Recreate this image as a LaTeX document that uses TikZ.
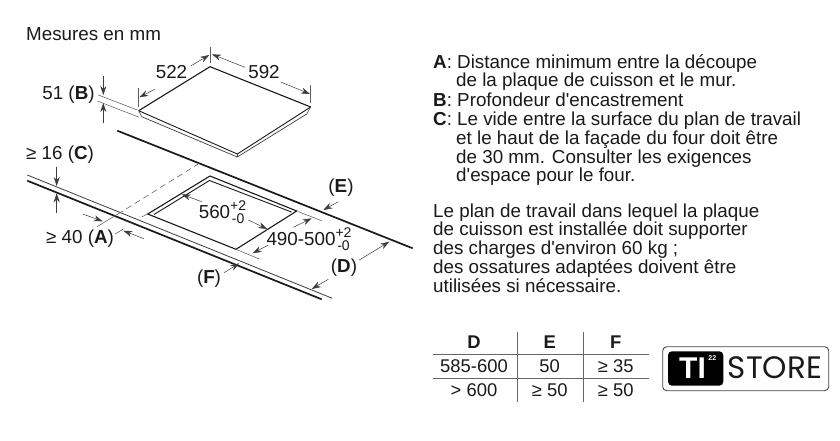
\documentclass[tikz,border=0pt]{standalone}
\usepackage{fontspec}
\setmainfont{Liberation Sans}
\newfontfamily\logofont{Poppins}
\usetikzlibrary{arrows.meta}
\definecolor{ink}{HTML}{1A1A1A}
\definecolor{rule}{HTML}{666666}
\tikzset{
  x=1pt,y=-1pt,
  thin line/.style={line width=0.5pt,draw=ink!85},
  ext/.style={line width=0.55pt,draw=ink!70},
  edge/.style={line width=1.1pt,draw=ink},
  heavy/.style={line width=1.7pt,draw=ink},
  dim/.style={line width=0.5pt,draw=ink!85,-{Stealth[length=9pt,width=6pt]}},
  txt/.style={anchor=base west,inner sep=0pt,font=\fontsize{18.8}{20}\selectfont,text=ink},
  lab/.style={inner sep=0pt,font=\fontsize{18.8}{20}\selectfont,text=ink},
  cell/.style={inner sep=0pt,font=\fontsize{18.4}{20}\selectfont,text=ink},
  tablerule/.style={line width=1pt,draw=rule},
}
\newcommand{\tol}[2]{\makebox[16pt][c]{\fontsize{14}{14}\selectfont\rlap{\raisebox{7.5pt}{\makebox[16pt][c]{#1}}}\raisebox{-5pt}{\makebox[16pt][c]{#2}}}}
\begin{document}
\begin{tikzpicture}
\useasboundingbox (0,0) rectangle (840,440);
\fill[white] (0,0) rectangle (840,440);
% title
\node[txt] (title) at (26,40) {Mesures en mm};
% hob
\draw[edge,line join=round] (138.7,110.7) -- (210,66.7) -- (310.7,107);
\draw[edge,line width=0.9pt] (310.7,107) -- (237.3,154) -- (138.7,110.7);
\draw[thin line,line width=0.7pt] (141.7,116.7) -- (237.3,157) -- (306.7,114);
\draw[thin line] (138.7,110.7) -- (141.7,116.7);
\draw[thin line] (237.3,154) -- (237.3,157);
\draw[thin line] (310.7,107) -- (306.7,114);
% hob dims
\draw[ext] (138.7,88) -- (138.7,107);
\draw[ext] (210,46.7) -- (210,63);
\draw[ext] (310.7,85) -- (310.7,103);
\draw[dim] (154.7,89.3) -- (139.3,97.3);
\draw[dim] (190.7,66) -- (209.3,55);
\draw[dim] (245,67.3) -- (212,54.3);
\draw[dim] (280.7,82) -- (310,94);
\node[lab] (d522) at (171.5,72) {522};
\node[lab] (d592) at (264,72) {592};
% depth
\draw[ext] (98.3,95) -- (137.3,110);
\draw[ext] (97.3,101) -- (139.3,117.3);
\draw[dim] (103.3,76) -- (103.3,95);
\draw[dim] (103.3,122.7) -- (103.3,103);
\node[lab] (b) at (68.5,95) {51 (\textbf{B})};
% worktop
\draw[heavy] (117.3,130.7) -- (412.7,248.3);
\draw[thin line,line width=0.8pt] (27.3,175) -- (332.3,298.3);
\draw[heavy] (27.3,180.7) -- (321.7,299.3);
% cutout
\draw[edge,line join=miter] (147.7,214) -- (210,176) -- (296.7,211) -- (236,249.3) -- cycle;
\draw[edge,line width=0.9pt] (154,214.5) -- (209.5,180.5) -- (291.5,212);
% dashed guide and A
\draw[ext,dashed,dash pattern=on 6pt off 4pt] (199.3,163.3) -- (118,214);
\draw[ext] (118,214) -- (97,226.7);
\draw[ext,dashed,dash pattern=on 6pt off 4pt] (147,214) -- (138,219.3);
\draw[ext] (123,229.3) -- (115,234);
\draw[dim] (82.7,214) -- (102.7,221.3);
\draw[dim] (144,238.7) -- (123.3,230.7);
\node[lab] (a) at (80,239) {≥ 40 (\textbf{A})};
% C
\draw[dim] (56.7,166.7) -- (56.7,186);
\draw[dim] (56.7,213.3) -- (56.7,193.3);
\node[lab] (c) at (60,155) {≥ 16 (\textbf{C})};
% 560
\draw[dim] (201.7,201.7) -- (181.7,194.3);
\draw[dim] (248.3,220) -- (267.3,229);
\node[lab,anchor=base] (w) at (222.5,218) {560\tol{+2}{-0}};
% 490-500
\draw[ext] (298.3,211.7) -- (321.7,220.7);
\draw[ext] (236,249.3) -- (259.3,259);
\draw[dim] (293.3,227.3) -- (311.7,218.3);
\draw[dim] (268.3,245) -- (252.7,253.3);
\node[lab,anchor=base] (h) at (309,245) {490-500\tol{+2}{-0}};
% E, D, F
\draw[dim] (338.3,201.7) -- (323.3,210);
\node[lab] (e) at (341,188) {(\textbf{E})};
\draw[dim] (359.3,260) -- (389.3,241.7);
\draw[dim] (328.3,279.3) -- (311.7,289);
\node[lab] (dd) at (344,268) {(\textbf{D})};
\draw[dim] (224,272.7) -- (239.3,263.3);
\node[lab] (f) at (209,279) {(\textbf{F})};
% right text
\node[txt] at (433,68) {\textbf{A}: Distance minimum entre la découpe};
\node[txt] at (456,86.5) {de la plaque de cuisson et le mur.};
\node[txt] at (433,106) {\textbf{B}: Profondeur d\textquotesingle encastrement};
\node[txt] at (433,125.5) {\textbf{C}: Le vide entre la surface du plan de travail};
\node[txt] at (456,144) {et le haut de la façade du four doit être};
\node[txt] at (456,163) {de 30 mm. Consulter les exigences};
\node[txt] at (456,181) {d\textquotesingle espace pour le four.};
\node[txt] at (433,217) {Le plan de travail dans lequel la plaque};
\node[txt] at (433,235) {de cuisson est installée doit supporter};
\node[txt] at (433,254) {des charges d\textquotesingle environ 60 kg ;};
\node[txt] at (433,273) {des ossatures adaptées doivent être};
\node[txt] at (433,292) {utilisées si nécessaire.};
% table
\draw[tablerule] (517,332) -- (517,401.5);
\draw[tablerule] (583,332) -- (583,401.5);
\draw[tablerule] (433.3,354.3) -- (648.7,354.3);
\draw[tablerule] (433.3,378) -- (648.7,378);
\node[cell] at (474,342) {\textbf{D}};
\node[cell] at (549.7,342) {\textbf{E}};
\node[cell] at (615.7,342) {\textbf{F}};
\node[cell] at (474,366.5) {585-600};
\node[cell] at (549.7,366.5) {50};
\node[cell] at (615.7,366.5) {≥ 35};
\node[cell] at (474,390) {> 600};
\node[cell] at (549.7,390) {≥ 50};
\node[cell] at (615.7,390) {≥ 50};
% logo
\draw[line width=0.9pt,draw=rule!70!black,rounded corners=4pt] (662.7,346.7) rectangle (828.7,390.7);
\fill[black,rounded corners=4pt] (668,351.3) rectangle (723.3,385.7);
\node[inner sep=0pt,text=white,font=\fontsize{30}{30}\selectfont\bfseries] (ti) at (692.5,368.5) {TI};
\node[inner sep=0pt,text=white,font=\fontsize{7}{7}\selectfont\bfseries] (tt) at (712.3,358) {22};
\node[inner sep=0pt,text=ink,font=\logofont\fontsize{31}{31}\selectfont] (store) at (775,368) {STORE};
\end{tikzpicture}
\end{document}
